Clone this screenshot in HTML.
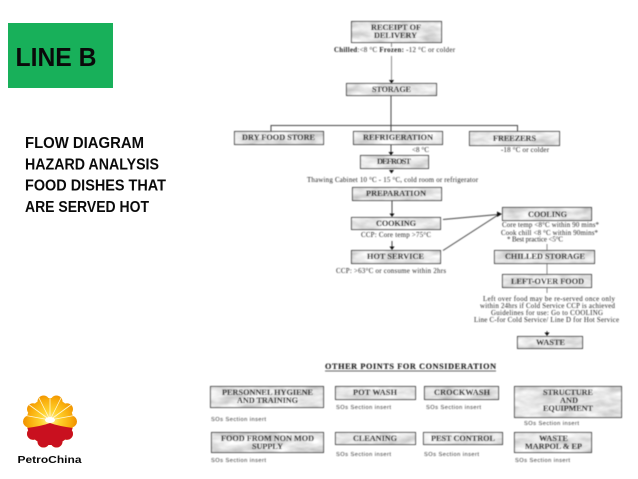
<!DOCTYPE html>
<html><head><meta charset="utf-8">
<style>
html,body{margin:0;padding:0;background:#fff;width:638px;height:479px;overflow:hidden}
svg{display:block}
.b{font-family:"Liberation Serif",serif;font-weight:bold;font-size:8.2px;fill:#1c1c1c;stroke:#1c1c1c;stroke-width:.12}
.s{font-family:"Liberation Serif",serif;font-size:6.9px;fill:#222}
.i{font-family:"Liberation Sans",sans-serif;font-size:5.7px;fill:#333}
.m{font-family:"Liberation Sans",sans-serif;font-weight:bold;fill:#0a0a0a}
.box{fill:#ccc;filter:url(#marble)}
.f{fill:none;stroke:#404040;stroke-width:1}
.l{stroke:#444;stroke-width:1;fill:none}
.g{stroke:#8c8c8c;stroke-width:1;fill:none}
.a{fill:#111}
</style></head>
<body>
<svg width="638" height="479" viewBox="0 0 638 479" xmlns="http://www.w3.org/2000/svg">
<defs>
<filter id="marble" x="0" y="0" width="100%" height="100%">
<feTurbulence type="fractalNoise" baseFrequency="0.05 0.13" numOctaves="3" seed="4"/>
<feColorMatrix type="matrix" values="0.7 0 0 0 0.44  0.7 0 0 0 0.44  0.7 0 0 0 0.44  0 0 0 0 1"/>
<feComposite in2="SourceAlpha" operator="in"/>
</filter>
<filter id="soft" x="0" y="0" width="100%" height="100%" filterUnits="userSpaceOnUse" primitiveUnits="userSpaceOnUse">
<feGaussianBlur stdDeviation="0.42"/>
</filter>
<radialGradient id="sun" gradientUnits="userSpaceOnUse" cx="50" cy="420" r="27">
<stop offset="0" stop-color="#fff2a0"/><stop offset="0.35" stop-color="#ffd22e"/><stop offset="0.75" stop-color="#f9ae0c"/><stop offset="1" stop-color="#f09000"/>
</radialGradient>
<clipPath id="lobes">
<circle cx="50" cy="421.500" r="23.500"/>
<circle cx="56.500" cy="401.500" r="6"/><circle cx="43.500" cy="401.500" r="6"/>
<circle cx="67" cy="409.200" r="6"/><circle cx="33" cy="409.200" r="6"/>
<circle cx="71" cy="421.500" r="6"/><circle cx="29" cy="421.500" r="6"/>
<circle cx="67" cy="433.800" r="6"/><circle cx="33" cy="433.800" r="6"/>
<circle cx="56.500" cy="441.500" r="6"/><circle cx="43.500" cy="441.500" r="6"/>
</clipPath>
</defs>

<rect x="8" y="23" width="105" height="65" fill="#18b05a"/>
<text class="m" x="15.500" y="66" font-size="26" textLength="81" lengthAdjust="spacingAndGlyphs">LINE B</text>
<g font-size="15.500">
<text class="m" x="25" y="148" textLength="119" lengthAdjust="spacingAndGlyphs">FLOW DIAGRAM</text>
<text class="m" x="25" y="169.500" textLength="134" lengthAdjust="spacingAndGlyphs">HAZARD ANALYSIS</text>
<text class="m" x="25" y="190.500" textLength="141" lengthAdjust="spacingAndGlyphs">FOOD DISHES THAT</text>
<text class="m" x="25" y="212" textLength="124" lengthAdjust="spacingAndGlyphs">ARE SERVED HOT</text>
</g>

<g clip-path="url(#lobes)">
<rect x="20" y="390" width="60" height="62" fill="url(#sun)"/>
<g stroke="#fff8d8" stroke-width="0.8">
<line x1="50" y1="420" x2="50" y2="394"/>
<line x1="50" y1="420" x2="38" y2="396"/>
<line x1="50" y1="420" x2="62" y2="396"/>
<line x1="50" y1="420" x2="28" y2="404"/>
<line x1="50" y1="420" x2="72" y2="404"/>
<line x1="50" y1="420" x2="23" y2="415"/>
<line x1="50" y1="420" x2="77" y2="415"/>
</g>
<path d="M20 429 L27 428 Q42 426 50 423 Q58 426 73 428 L80 429 V452 H20Z" fill="#c9101f"/>
<ellipse cx="50" cy="420" rx="5" ry="3" fill="#fff"/>
</g>
<text class="m" x="17.500" y="463" font-size="10.500" transform="skewX(0)" fill="#111" textLength="64" lengthAdjust="spacingAndGlyphs">PetroChina</text>

<g filter="url(#soft)">
<!-- connectors -->
<path class="g" d="M391.500 43V47M391.500 56V81"/>
<path class="a" d="M389 80h5l-2.500 3.500z"/>
<path class="l" d="M391 96V131M271 131V125.500H517.500V131"/>
<path class="l" d="M391 145V153"/><path class="a" d="M388.500 152h5l-2.500 3.500z"/>
<path class="a" d="M389 170h5l-2.500 3.500z"/>
<path class="l" d="M392 201V214"/><path class="a" d="M389.500 213.500h5l-2.500 3.500z"/>
<path class="l" d="M392 241V247"/><path class="a" d="M389.500 246.500h5l-2.500 3.500z"/>
<path class="l" d="M443 219.500L498 214.500M443 250.500L498 215"/>
<path class="a" d="M497 211.500L502 214L497 217z"/>
<path class="g" d="M547 244V250M547 264V274M547 288V293"/>
<path class="l" d="M547 331V334"/><path class="a" d="M544.500 332.500h5l-2.500 3.500z"/>

<!-- flow boxes -->
<rect class="box" x="351" y="21" width="91" height="22"/><rect class="f" x="351.500" y="21.500" width="90" height="21"/>
<rect class="box" x="346" y="83" width="91" height="13"/><rect class="f" x="346.500" y="83.500" width="90" height="12"/>
<rect class="box" x="234" y="131" width="90" height="14"/><rect class="f" x="234.500" y="131.500" width="89" height="13"/>
<rect class="box" x="353" y="131" width="90" height="14"/><rect class="f" x="353.500" y="131.500" width="89" height="13"/>
<rect class="box" x="469" y="131" width="91" height="15"/><rect class="f" x="469.500" y="131.500" width="90" height="14"/>
<rect class="box" x="360" y="155" width="69" height="14"/><rect class="f" x="360.500" y="155.500" width="68" height="13"/>
<rect class="box" x="352" y="187" width="90" height="14"/><rect class="f" x="352.500" y="187.500" width="89" height="13"/>
<rect class="box" x="351" y="217" width="90" height="13"/><rect class="f" x="351.500" y="217.500" width="89" height="12"/>
<rect class="box" x="351" y="250" width="90" height="14"/><rect class="f" x="351.500" y="250.500" width="89" height="13"/>
<rect class="box" x="502" y="207" width="90" height="14"/><rect class="f" x="502.500" y="207.500" width="89" height="13"/>
<rect class="box" x="494" y="250" width="101" height="14"/><rect class="f" x="494.500" y="250.500" width="100" height="13"/>
<rect class="box" x="502" y="274" width="90" height="14"/><rect class="f" x="502.500" y="274.500" width="89" height="13"/>
<rect class="box" x="517" y="336" width="66" height="13"/><rect class="f" x="517.500" y="336.500" width="65" height="12"/>

<!-- bottom boxes -->
<rect class="box" x="210" y="386" width="114" height="22"/><rect class="f" x="210.500" y="386.500" width="113" height="21"/>
<rect class="box" x="335" y="386" width="81" height="14"/><rect class="f" x="335.500" y="386.500" width="80" height="13"/>
<rect class="box" x="424" y="386" width="75" height="14"/><rect class="f" x="424.500" y="386.500" width="74" height="13"/>
<rect class="box" x="514" y="386" width="108" height="32"/><rect class="f" x="514.500" y="386.500" width="107" height="31"/>
<rect class="box" x="211" y="432" width="113" height="21"/><rect class="f" x="211.500" y="432.500" width="112" height="20"/>
<rect class="box" x="335" y="432" width="81" height="13"/><rect class="f" x="335.500" y="432.500" width="80" height="12"/>
<rect class="box" x="423" y="432" width="80" height="13"/><rect class="f" x="423.500" y="432.500" width="79" height="12"/>
<rect class="box" x="514" y="432" width="78" height="21"/><rect class="f" x="514.500" y="432.500" width="77" height="20"/>

<!-- box labels -->
<text class="b" x="371" y="30" textLength="50">RECEIPT OF</text>
<text class="b" x="374" y="38" textLength="43">DELIVERY</text>
<text class="b" x="372" y="92" textLength="39">STORAGE</text>
<text class="b" x="242" y="140" textLength="73">DRY FOOD STORE</text>
<text class="b" x="363" y="140" textLength="70">REFRIGERATION</text>
<text class="b" x="493" y="141" textLength="43">FREEZERS</text>
<text class="b" x="377" y="164" textLength="34">DEFROST</text>
<text class="b" x="366" y="196" textLength="60">PREPARATION</text>
<text class="b" x="376" y="226" textLength="40">COOKING</text>
<text class="b" x="367" y="259" textLength="57">HOT SERVICE</text>
<text class="b" x="528" y="217" textLength="39">COOLING</text>
<text class="b" x="505" y="259" textLength="80">CHILLED STORAGE</text>
<text class="b" x="511" y="284" textLength="73">LEFT-OVER FOOD</text>
<text class="b" x="536" y="345" textLength="29">WASTE</text>
<text class="b" x="222" y="395" textLength="91">PERSONNEL HYGIENE</text>
<text class="b" x="237" y="403" textLength="61">AND TRAINING</text>
<text class="b" x="353" y="395" textLength="44">POT WASH</text>
<text class="b" x="434" y="395" textLength="56">CROCKWASH</text>
<text class="b" x="543" y="395" textLength="50">STRUCTURE</text>
<text class="b" x="560" y="403" textLength="18">AND</text>
<text class="b" x="543" y="411" textLength="50">EQUIPMENT</text>
<text class="b" x="221" y="441" textLength="93">FOOD FROM NON MOD</text>
<text class="b" x="252" y="449" textLength="31">SUPPLY</text>
<text class="b" x="353" y="441" textLength="44">CLEANING</text>
<text class="b" x="431" y="441" textLength="64">PEST CONTROL</text>
<text class="b" x="539" y="441" textLength="29">WASTE</text>
<text class="b" x="525" y="449" textLength="57">MARPOL &amp; EP</text>

<!-- notes -->
<text class="s" x="334" y="52" textLength="121"><tspan font-weight="bold">Chilled</tspan>:&lt;8 °C  <tspan font-weight="bold">Frozen:</tspan>  -12 °C or colder</text>
<text class="s" x="412" y="152" textLength="17">&lt;8 °C</text>
<text class="s" x="501" y="152" textLength="48">-18 °C or colder</text>
<text class="s" x="307" y="182" textLength="171">Thawing Cabinet 10 °C - 15 °C,  cold room or refrigerator</text>
<text class="s" x="361" y="237" textLength="70">CCP: Core temp &gt;75°C</text>
<text class="s" x="336" y="273" textLength="110">CCP: &gt;63°C or consume within 2hrs</text>
<text class="s" x="502" y="227" textLength="97">Core temp &lt;8°C within 90 mins*</text>
<text class="s" x="501" y="235" textLength="97">Cook chill &lt;8 °C within 90mins*</text>
<text class="s" x="507" y="241.500" textLength="56">* Best practice &lt;5°C</text>
<text class="s" x="483" y="301" textLength="132">Left over food may be re-served once only</text>
<text class="s" x="480" y="308" textLength="135">within 24hrs if Cold Service CCP is achieved</text>
<text class="s" x="491" y="315" textLength="112">Guidelines for use:  Go to COOLING</text>
<text class="s" x="474" y="322" textLength="145">Line C-for Cold Service/ Line D for Hot Service</text>

<text class="b" x="325" y="369" textLength="171">OTHER POINTS FOR CONSIDERATION</text>
<path d="M325 371H496" stroke="#333" stroke-width="0.7"/>

<text class="i" x="211" y="421" textLength="55">SOs Section insert</text>
<text class="i" x="336" y="409" textLength="55">SOs Section insert</text>
<text class="i" x="426" y="409" textLength="55">SOs Section insert</text>
<text class="i" x="524" y="425" textLength="55">SOs Section insert</text>
<text class="i" x="211" y="462" textLength="55">SOs Section insert</text>
<text class="i" x="336" y="456" textLength="55">SOs Section insert</text>
<text class="i" x="424" y="456" textLength="55">SOs Section insert</text>
<text class="i" x="515" y="462" textLength="55">SOs Section insert</text>
</g>
</svg>
</body></html>
